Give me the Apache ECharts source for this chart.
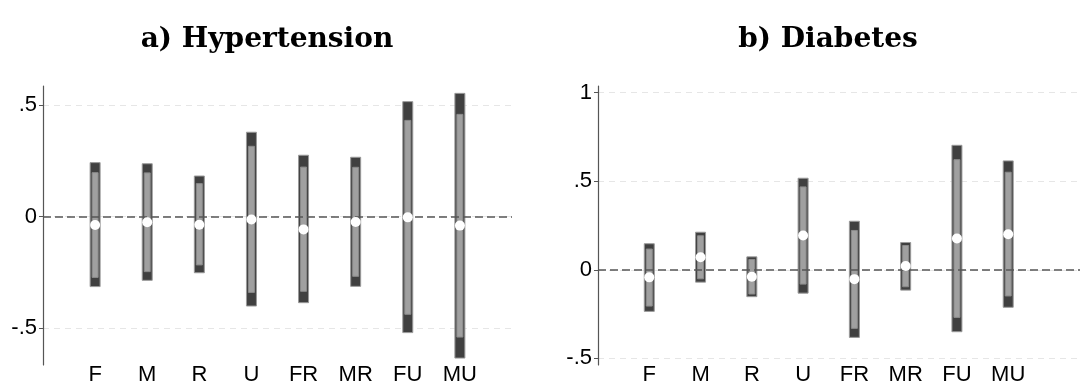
<!DOCTYPE html>
<html><head><meta charset="utf-8">
<script src="https://cdn.jsdelivr.net/npm/echarts@6/dist/echarts.min.js"></script>
<style>html,body{margin:0;padding:0;background:#fff}#c{width:1083px;height:387px}</style>
</head><body><div id="c"></div>
<script>
const categories = ['F','M','R','U','FR','MR','FU','MU'];
// a) Hypertension
const hypPoint = [-0.037,-0.025,-0.036,-0.013,-0.057,-0.024,-0.003,-0.040];
const hypLo95  = [-0.313,-0.285,-0.251,-0.400,-0.385,-0.312,-0.519,-0.633];
const hypHi95  = [0.242,0.237,0.182,0.378,0.275,0.266,0.515,0.552];
const hypLo90  = [-0.272,-0.246,-0.216,-0.339,-0.334,-0.267,-0.437,-0.539];
const hypHi90  = [0.197,0.196,0.148,0.315,0.222,0.221,0.431,0.458];
// b) Diabetes
const diaPoint = [-0.043,0.071,-0.039,0.194,-0.053,0.021,0.177,0.201];
const diaLo95  = [-0.235,-0.070,-0.152,-0.132,-0.382,-0.115,-0.350,-0.212];
const diaHi95  = [0.147,0.212,0.073,0.517,0.274,0.154,0.703,0.615];
const diaLo90  = [-0.205,-0.051,-0.137,-0.081,-0.331,-0.096,-0.269,-0.148];
const diaHi90  = [0.117,0.192,0.058,0.468,0.222,0.137,0.622,0.551];
const hypTicks = [-0.5,0,0.5];
const diaTicks = [-0.5,0,0.5,1];
const titles = ['a) Hypertension','b) Diabetes'];

function fmtTick(v){
  if (Math.abs(v) < 1e-9) return '0';
  let s = String(+v.toFixed(2));
  return s.replace(/^(-?)0\./,'$1.');
}
function rangeItem(width, fill, stroke){
  return function(params, api){
    const x = api.value(0), lo = api.value(1), hi = api.value(2);
    const p1 = api.coord([x, hi]), p2 = api.coord([x, lo]);
    return {type:'rect', shape:{x:p1[0]-width/2, y:p1[1], width:width, height:p2[1]-p1[1]},
      style:{fill:fill, stroke:stroke, lineWidth:1}};
  };
}
function ci(lo, hi){ return categories.map((c,i)=>[i+1, lo[i], hi[i]]); }
function pts(p){ return categories.map((c,i)=>[i+1, p[i]]); }

const grids = [
  {left:43, top:86, width:469, height:279},
  {left:598, top:86, right:0, height:279}
];
const yRanges = [[-0.664,0.585],[-0.538,1.038]];
const xMax = [9, 9.4];
const tickSets = [hypTicks, diaTicks];
const sets = [
  [hypPoint,hypLo95,hypHi95,hypLo90,hypHi90],
  [diaPoint,diaLo95,diaHi95,diaLo90,diaHi90]
];
const labelFont = {fontFamily:'Liberation Sans, Arial, sans-serif', fontSize:22, color:'#000'};
const titleFont = {fontFamily:'DejaVu Serif, serif', fontWeight:'bold', fontSize:28, color:'#000'};

const option = {
  animation:false,
  backgroundColor:'#fff',
  title: [
    {text:titles[0], left:262, top:21, textAlign:'center', textStyle:titleFont},
    {text:titles[1], left:823, top:21, textAlign:'center', textStyle:titleFont}
  ],
  grid: grids,
  xAxis: [0,1].map(g=>({
    type:'value', gridIndex:g, min:0, max:xMax[g], interval:1,
    axisLine:{show:false}, axisTick:{show:false}, splitLine:{show:false},
    axisLabel:Object.assign({margin:-1, showMinLabel:true, showMaxLabel:true,
      formatter:function(v){ const i=Math.round(v); return (Math.abs(v-i)<1e-6 && i>=1 && i<=categories.length)?categories[i-1]:''; }}, labelFont)
  })),
  yAxis: [0,1].map(g=>({
    type:'value', gridIndex:g, min:yRanges[g][0], max:yRanges[g][1],
    axisLine:{show:true, lineStyle:{color:'#555', width:1.2}},
    axisTick:{show:true, length:4, customValues:tickSets[g], lineStyle:{color:'#555'}},
    axisLabel:Object.assign({margin:6, customValues:tickSets[g], formatter:fmtTick}, labelFont),
    splitLine:{show:true, lineStyle:{color:'#e6e6e6', type:[6,5], width:1}}
  })),
  series: []
};
[0,1].forEach(g=>{
  const s = sets[g];
  option.series.push({type:'custom', xAxisIndex:g, yAxisIndex:g, renderItem:rangeItem(10,'#404040','#9a9a9a'),
    data:ci(s[1],s[2]), z:2, encode:{x:0,y:[1,2]}});
  option.series.push({type:'custom', xAxisIndex:g, yAxisIndex:g, renderItem:rangeItem(6,'#a0a0a0','#8a8a8a'),
    data:ci(s[3],s[4]), z:3, encode:{x:0,y:[1,2]}});
  option.series.push({type:'line', xAxisIndex:g, yAxisIndex:g, data:[], z:4,
    markLine:{silent:true, symbol:'none', label:{show:false},
      lineStyle:{color:'#555', type:[8,4], width:1.5}, data:[{yAxis:0}]}});
  option.series.push({type:'scatter', xAxisIndex:g, yAxisIndex:g, data:pts(s[0]), symbol:'circle', symbolSize:10,
    itemStyle:{color:'#fff', opacity:1}, z:6});
});
const chart = echarts.init(document.getElementById('c'), null, {renderer:'canvas'});
chart.setOption(option);
</script></body></html>
